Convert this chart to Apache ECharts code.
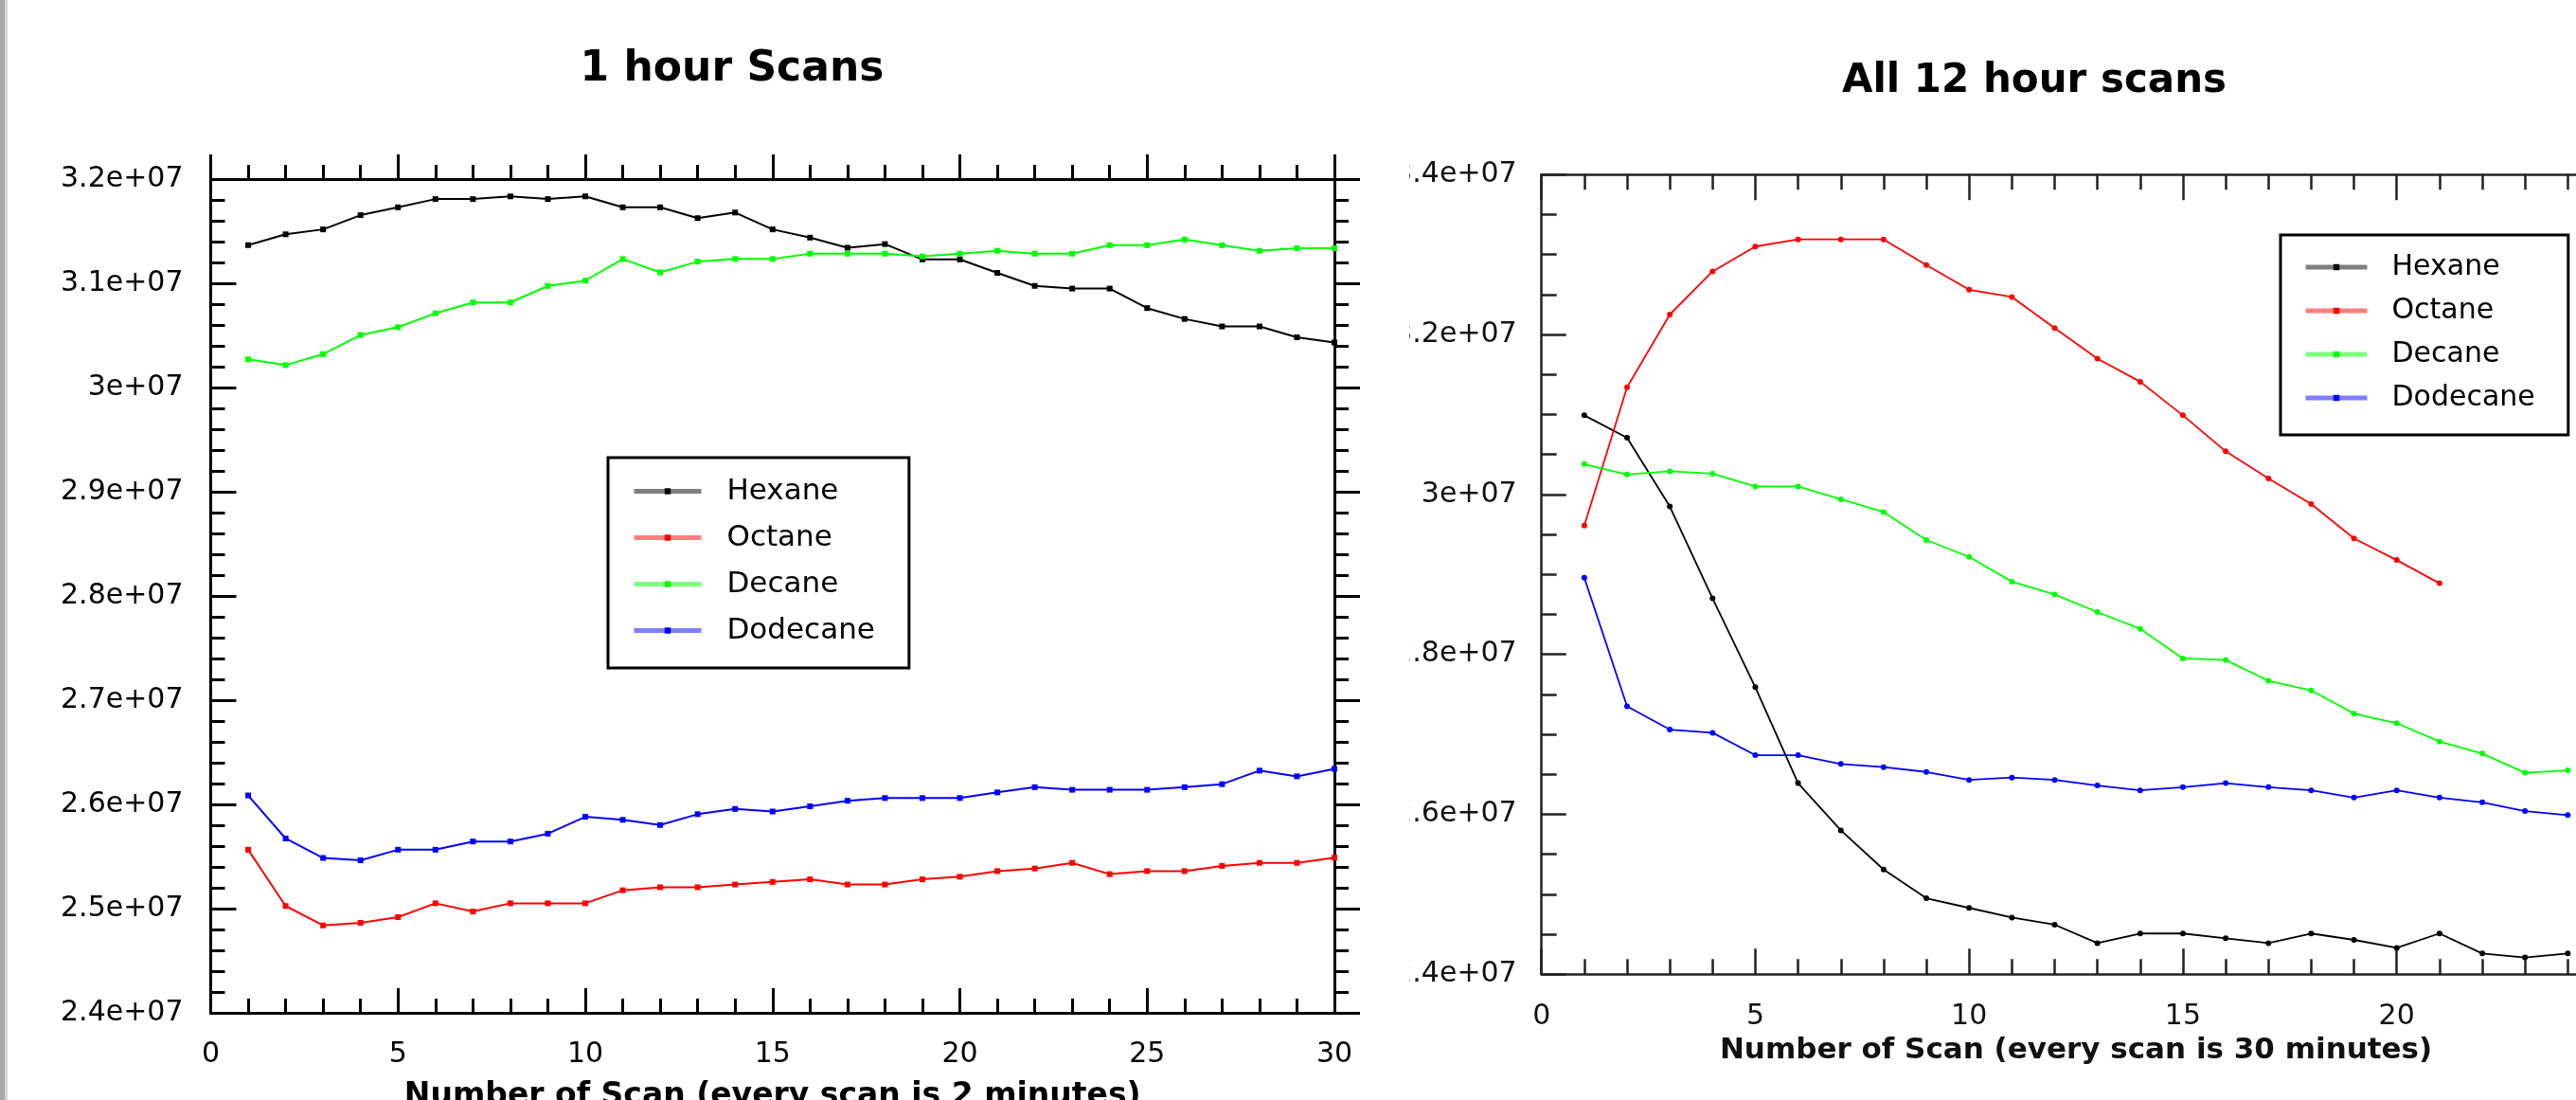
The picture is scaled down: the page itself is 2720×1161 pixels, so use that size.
<!DOCTYPE html>
<html>
<head>
<meta charset="utf-8">
<script src="https://cdn.jsdelivr.net/npm/echarts@6/dist/echarts.min.js"></script>
<style>html,body{margin:0;padding:0;background:#fff}#c{width:2720px;height:1161px}</style>
</head>
<body>
<div id="c"></div>
<script>
// ---------- data ----------
const seriesNames = ['Hexane', 'Octane', 'Decane', 'Dodecane'];
const seriesColors = ['#000000', '#ff0000', '#00ff00', '#0000ff'];

const titleLeft = '1 hour Scans';
const titleRight = 'All 12 hour scans';
const xNameLeft = 'Number of Scan (every scan is 2 minutes)';
const xNameRight = 'Number of Scan (every scan is 30 minutes)';

const scans1h = [1,2,3,4,5,6,7,8,9,10,11,12,13,14,15,16,17,18,19,20,21,22,23,24,25,26,27,28,29,30];
const hexane1h = [3.1366e7,3.1470e7,3.1517e7,3.1654e7,3.1729e7,3.1808e7,3.1808e7,3.1834e7,3.1808e7,3.1834e7,
                  3.1729e7,3.1729e7,3.1625e7,3.1679e7,3.1517e7,3.1438e7,3.1341e7,3.1376e7,3.1229e7,3.1229e7,
                  3.1100e7,3.0975e7,3.0949e7,3.0949e7,3.0762e7,3.0658e7,3.0586e7,3.0586e7,3.0482e7,3.0432e7];
const octane1h = [2.5565e7,2.5025e7,2.4839e7,2.4864e7,2.4918e7,2.5051e7,2.4972e7,2.5051e7,2.5051e7,2.5051e7,
                  2.5176e7,2.5205e7,2.5205e7,2.5231e7,2.5256e7,2.5281e7,2.5231e7,2.5231e7,2.5281e7,2.5306e7,
                  2.5360e7,2.5385e7,2.5439e7,2.5331e7,2.5360e7,2.5360e7,2.5410e7,2.5439e7,2.5439e7,2.5489e7];
const decane1h = [3.0270e7,3.0215e7,3.0320e7,3.0504e7,3.0579e7,3.0712e7,3.0816e7,3.0816e7,3.0975e7,3.1025e7,
                  3.1233e7,3.1104e7,3.1208e7,3.1233e7,3.1233e7,3.1284e7,3.1284e7,3.1284e7,3.1258e7,3.1284e7,
                  3.1312e7,3.1284e7,3.1284e7,3.1366e7,3.1366e7,3.1420e7,3.1366e7,3.1312e7,3.1337e7,3.1337e7];
const dodecane1h = [2.6086e7,2.5673e7,2.5486e7,2.5464e7,2.5565e7,2.5565e7,2.5644e7,2.5644e7,2.5719e7,2.5881e7,
                    2.5852e7,2.5802e7,2.5906e7,2.5956e7,2.5932e7,2.5982e7,2.6035e7,2.6061e7,2.6061e7,2.6061e7,
                    2.6115e7,2.6165e7,2.6140e7,2.6140e7,2.6140e7,2.6165e7,2.6194e7,2.6324e7,2.6269e7,2.6341e7];

const scans12h = [1,2,3,4,5,6,7,8,9,10,11,12,13,14,15,16,17,18,19,20,21,22,23,24];
const hexane12h = [3.099e7,3.071e7,2.985e7,2.870e7,2.759e7,2.639e7,2.580e7,2.531e7,2.495e7,2.483e7,
                   2.471e7,2.462e7,2.439e7,2.451e7,2.451e7,2.445e7,2.439e7,2.451e7,2.443e7,2.433e7,
                   2.451e7,2.426e7,2.421e7,2.426e7];
const octane12h = [2.961e7,3.134e7,3.225e7,3.279e7,3.310e7,3.319e7,3.319e7,3.319e7,3.287e7,3.256e7,
                   3.247e7,3.208e7,3.170e7,3.141e7,3.099e7,3.054e7,3.020e7,2.988e7,2.945e7,2.918e7,
                   2.889e7];
const decane12h = [3.038e7,3.025e7,3.029e7,3.026e7,3.010e7,3.010e7,2.994e7,2.978e7,2.943e7,2.922e7,
                   2.891e7,2.875e7,2.853e7,2.832e7,2.795e7,2.793e7,2.767e7,2.755e7,2.726e7,2.714e7,
                   2.691e7,2.676e7,2.652e7,2.655e7];
const dodecane12h = [2.896e7,2.735e7,2.706e7,2.702e7,2.674e7,2.674e7,2.663e7,2.659e7,2.653e7,2.643e7,
                     2.646e7,2.643e7,2.636e7,2.630e7,2.634e7,2.639e7,2.634e7,2.630e7,2.621e7,2.630e7,
                     2.621e7,2.615e7,2.604e7,2.599e7];

const values1h = [hexane1h, octane1h, decane1h, dodecane1h];
const values12h = [hexane12h, octane12h, decane12h, dodecane12h];

// ---------- chart ----------
const FONT = 'DejaVu Sans';
const fmtY = v => (Math.round(v / 1e5) / 100) + 'e+07';

function pairs(xs, ys) { return ys.map((y, i) => [xs[i], y]); }

function axisCommon(color, lw) {
  return {
    type: 'value',
    splitLine: { show: false },
    axisLine: { show: true, onZero: false, lineStyle: { color: color, width: lw } },
    axisTick: { show: true, length: 26, lineStyle: { color: color, width: lw } },
    minorTick: { show: true, length: 15, lineStyle: { color: color, width: lw } }
  };
}

const xAxes = [
  Object.assign(axisCommon('#000', 3), {
    gridIndex: 0, position: 'bottom', min: 0, max: 30, interval: 5,
    axisTick: { show: true, inside: true, length: 26, lineStyle: { color: '#000', width: 3 } },
    minorTick: { show: true, splitNumber: 5, length: 15, lineStyle: { color: '#000', width: 3 } },
    axisLabel: { show: true, margin: 29, fontFamily: FONT, fontSize: 30, color: '#000' },
    name: xNameLeft, nameLocation: 'middle', nameGap: 72,
    nameTextStyle: { fontFamily: FONT, fontWeight: 'bold', fontSize: 33, color: '#000' }
  }),
  Object.assign(axisCommon('#000', 3), {
    gridIndex: 0, position: 'top', min: 0, max: 30, interval: 5,
    axisTick: { show: true, inside: false, length: 26, lineStyle: { color: '#000', width: 3 } },
    minorTick: { show: true, splitNumber: 5, length: 15, lineStyle: { color: '#000', width: 3 } },
    axisLabel: { show: false }
  }),
  Object.assign(axisCommon('#222', 2.5), {
    gridIndex: 1, position: 'bottom', min: 0, max: 25, interval: 5,
    axisTick: { show: true, inside: true, length: 27, lineStyle: { color: '#222', width: 2.5 } },
    minorTick: { show: true, splitNumber: 5, length: 16, lineStyle: { color: '#222', width: 2.5 } },
    axisLabel: { show: true, margin: 30, fontFamily: FONT, fontSize: 30, color: '#111' },
    name: xNameRight, nameLocation: 'middle', nameGap: 63,
    nameTextStyle: { fontFamily: FONT, fontWeight: 'bold', fontSize: 31, color: '#111' }
  }),
  Object.assign(axisCommon('#222', 2.5), {
    gridIndex: 1, position: 'top', min: 0, max: 25, interval: 5,
    axisTick: { show: true, inside: true, length: 27, lineStyle: { color: '#222', width: 2.5 } },
    minorTick: { show: true, splitNumber: 5, length: 16, lineStyle: { color: '#222', width: 2.5 } },
    axisLabel: { show: false }
  })
];

const yAxes = [
  Object.assign(axisCommon('#000', 3), {
    gridIndex: 0, position: 'left', min: 2.4e7, max: 3.2e7, interval: 1e6,
    axisTick: { show: true, inside: true, length: 27, lineStyle: { color: '#000', width: 3 } },
    minorTick: { show: true, splitNumber: 5, length: 15, lineStyle: { color: '#000', width: 3 } },
    axisLabel: { show: true, margin: 29, fontFamily: FONT, fontSize: 30, color: '#000', formatter: fmtY }
  }),
  Object.assign(axisCommon('#000', 3), {
    gridIndex: 0, position: 'right', min: 2.4e7, max: 3.2e7, interval: 1e6,
    axisTick: { show: true, inside: false, length: 27, lineStyle: { color: '#000', width: 3 } },
    minorTick: { show: true, splitNumber: 5, length: 15, lineStyle: { color: '#000', width: 3 } },
    axisLabel: { show: false }
  }),
  Object.assign(axisCommon('#222', 2.5), {
    gridIndex: 1, position: 'left', min: 2.4e7, max: 3.4e7, interval: 2e6,
    axisTick: { show: true, inside: true, length: 26, lineStyle: { color: '#222', width: 2.5 } },
    minorTick: { show: true, splitNumber: 4, length: 16, lineStyle: { color: '#222', width: 2.5 } },
    axisLabel: { show: true, margin: 26, fontFamily: FONT, fontSize: 30, color: '#111', formatter: fmtY }
  })
];

const series = [];
seriesNames.forEach((name, i) => {
  series.push({
    type: 'line', name: name, xAxisIndex: 0, yAxisIndex: 0,
    data: pairs(scans1h, values1h[i]),
    symbol: 'rect', symbolSize: 6, showSymbol: true,
    lineStyle: { color: seriesColors[i], width: 2 },
    itemStyle: { color: seriesColors[i] },
    emphasis: { disabled: true }, animation: false
  });
});
seriesNames.forEach((name, i) => {
  series.push({
    type: 'line', name: name, xAxisIndex: 2, yAxisIndex: 2,
    data: pairs(scans12h, values12h[i]),
    symbol: 'circle', symbolSize: 6, showSymbol: true,
    lineStyle: { color: seriesColors[i], width: 1.8 },
    itemStyle: { color: seriesColors[i] },
    emphasis: { disabled: true }, animation: false
  });
});

const legendCommon = {
  data: seriesNames, orient: 'vertical', selectedMode: false,
  itemHeight: 8, borderColor: '#000', backgroundColor: '#fff',
  lineStyle: { width: 5, opacity: 0.5 }
};

const option = {
  backgroundColor: '#ffffff',
  animation: false,
  title: [
    { text: titleLeft, left: 773, top: 52, textAlign: 'center', padding: 0,
      textStyle: { fontFamily: FONT, fontWeight: 'bold', fontSize: 44, color: '#000' } },
    { text: titleRight, left: 2148, top: 65, textAlign: 'center', padding: 0,
      textStyle: { fontFamily: FONT, fontWeight: 'bold', fontSize: 42, color: '#000' } }
  ],
  grid: [
    { left: 222.5, top: 189, width: 1186.5, height: 880, outerBoundsMode: 'none', containLabel: false },
    { left: 1627.7, top: 184.3, width: 1128.75, height: 844, outerBoundsMode: 'none', containLabel: false }
  ],
  xAxis: xAxes,
  yAxis: yAxes,
  legend: [
    Object.assign({}, legendCommon, {
      left: 642, top: 483, padding: [20, 36, 24, 25], itemGap: 18, itemWidth: 71, borderWidth: 3,
      textStyle: { fontFamily: FONT, fontSize: 31, color: '#000', padding: [0, 0, 0, 22] }
    }),
    Object.assign({}, legendCommon, {
      left: 2408, top: 248, padding: [19, 35, 24, 24], itemGap: 16, itemWidth: 65, borderWidth: 3,
      textStyle: { fontFamily: FONT, fontSize: 30, color: '#000', padding: [0, 0, 0, 21] }
    })
  ],
  graphic: [
    { type: 'rect', z: 100, shape: { x: 1440, y: 0, width: 48, height: 1161 }, style: { fill: '#ffffff' } },
    { type: 'rect', z: 100, shape: { x: 0, y: 0, width: 5, height: 1161 }, style: { fill: '#a8a8a8' } },
    { type: 'rect', z: 100, shape: { x: 5, y: 0, width: 3, height: 1161 }, style: { fill: '#d6d6d6' } }
  ],
  series: series
};

const chart = echarts.init(document.getElementById('c'), null, { renderer: 'canvas' });
chart.setOption(option);
</script>
</body>
</html>
